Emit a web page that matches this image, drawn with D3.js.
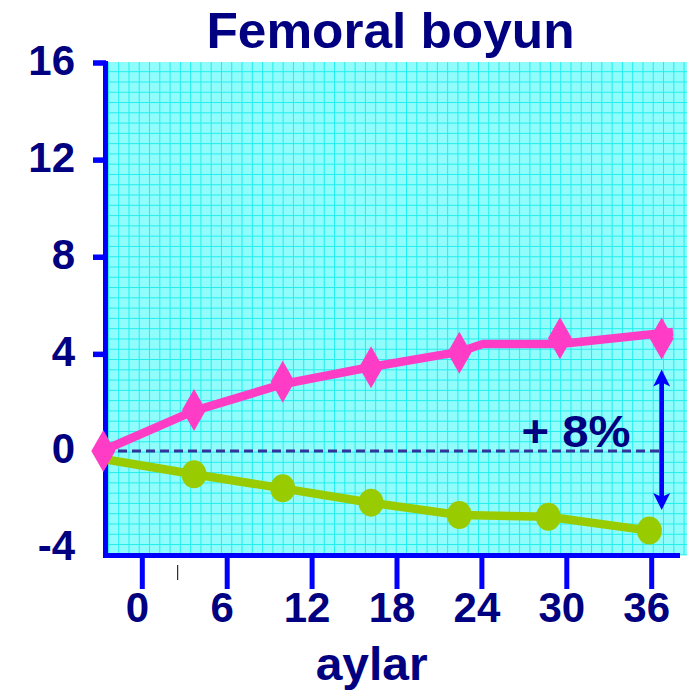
<!DOCTYPE html>
<html>
<head>
<meta charset="utf-8">
<script src="https://cdn.jsdelivr.net/npm/d3@7"></script>
<style>
  html, body { margin: 0; padding: 0; background: #ffffff; }
  svg { display: block; }
  text { font-family: "Liberation Sans", Arial, Helvetica, sans-serif; font-weight: bold; }
</style>
</head>
<body>
<svg id="chart" width="693" height="691"></svg>
<script>
// ---- data ----
const titleText = "Femoral boyun";
const xAxisTitle = "aylar";
const annotationText = "+ 8%";
const xTickValues = [0, 6, 12, 18, 24, 30, 36];
const yTickValues = [-4, 0, 4, 8, 12, 16];
const yTickLabels = ["-4", "0", "4", "8", "12", "16"];

// pink series (diamonds) – marker positions (months, % change)
const pinkMarkerMonths = [-2.72, 3.69, 9.96, 16.2, 22.44, 29.55, 36.74];
const pinkMarkerValues = [0.0, 1.69, 2.85, 3.45, 4.05, 4.64, 4.63];
// pink connecting line vertices
const pinkLineMonths = [-2.74, 3.69, 10.0, 16.2, 22.42, 24.1, 29.55, 37.54];
const pinkLineValues = [0.02, 1.65, 2.76, 3.46, 4.08, 4.41, 4.41, 4.90];

// green series (circles)
const greenMonths = [-2.74, 3.69, 9.96, 16.2, 22.44, 28.73, 35.87];
const greenValues = [-0.33, -0.96, -1.54, -2.13, -2.64, -2.71, -3.28];
const greenMarkerMonths = [3.69, 9.96, 16.2, 22.44, 28.73, 35.87];
const greenMarkerValues = [-0.96, -1.54, -2.13, -2.64, -2.71, -3.28];

// difference arrow (months, top value, bottom value)
const arrowMonth = 36.74;
const arrowTop = 3.36;
const arrowBottom = -2.43;
const baselineValue = 0;

// ---- styles ----
const NAVY = "#000080";
const BLUE = "#0000ff";
const PINK = "#ff3cc6";
const GREEN = "#99cc00";
const BG = "#90fcfc";
const GRID = "#22eeee";

const svg = d3.select("#chart");

// scales
const x = d3.scaleLinear().domain([0, 36]).range([141.8, 651.2]);
const y = d3.scaleLinear().domain([-4, 16]).range([548.1, 62.5]);

// plot area
const plot = { left: 108, right: 687, top: 62, bottom: 555 };

svg.append("rect")
  .attr("x", plot.left).attr("y", plot.top)
  .attr("width", plot.right - plot.left).attr("height", plot.bottom - plot.top)
  .attr("fill", BG);

// graph paper grid (decorative)
const gridStep = 10.28;
const gx = d3.range(plot.left + 0.4, plot.right, gridStep);
const gy = d3.range(plot.top - 0.6 + gridStep, plot.bottom, gridStep);
svg.append("g").selectAll("line").data(gx).join("line")
  .attr("x1", d => d).attr("x2", d => d)
  .attr("y1", plot.top).attr("y2", plot.bottom)
  .attr("stroke", GRID).attr("stroke-width", 1);
svg.append("g").selectAll("line").data(gy).join("line")
  .attr("y1", d => d).attr("y2", d => d)
  .attr("x1", plot.left).attr("x2", plot.right)
  .attr("stroke", GRID).attr("stroke-width", 1);

// title
svg.append("text")
  .attr("x", 390.5).attr("y", 47.5)
  .attr("text-anchor", "middle")
  .attr("font-size", 50)
  .attr("textLength", 368).attr("lengthAdjust", "spacingAndGlyphs")
  .attr("fill", NAVY)
  .text(titleText);

// dashed zero line
svg.append("line")
  .attr("x1", 118).attr("x2", x(arrowMonth))
  .attr("y1", y(baselineValue)).attr("y2", y(baselineValue))
  .attr("stroke", "#333399").attr("stroke-width", 3)
  .attr("stroke-dasharray", "9,5");

// Y axis
const yAxis = d3.axisLeft(y).tickValues(yTickValues).tickSize(13).tickSizeOuter(0)
  .tickFormat((d, i) => yTickLabels[i]);
const gY = svg.append("g").attr("transform", "translate(106,0)").call(yAxis);
gY.select(".domain").remove();
gY.selectAll(".tick line")
  .attr("stroke", BLUE).attr("stroke-width", 5.5)
  .attr("display", d => d === -4 ? "none" : null);
gY.selectAll(".tick text")
  .attr("x", -31).attr("dy", 11.5)
  .attr("fill", NAVY).attr("font-size", 42)
  .attr("font-family", "'Liberation Sans', Arial, sans-serif").attr("font-weight", "bold");

// X axis
const xAxis = d3.axisBottom(x).tickValues(xTickValues).tickSize(31).tickSizeOuter(0)
  .tickFormat(d => String(d));
const gX = svg.append("g").attr("transform", "translate(0,558)").call(xAxis);
gX.select(".domain").remove();
gX.selectAll(".tick line").attr("stroke", BLUE).attr("stroke-width", 5);
gX.selectAll(".tick text")
  .attr("y", 63.7).attr("dy", 0).attr("dx", -5)
  .attr("fill", NAVY).attr("font-size", 42)
  .attr("font-family", "'Liberation Sans', Arial, sans-serif").attr("font-weight", "bold");

// axis lines
svg.append("line")
  .attr("x1", 105.5).attr("x2", 105.5).attr("y1", 61).attr("y2", 558)
  .attr("stroke", BLUE).attr("stroke-width", 5);
svg.append("line")
  .attr("x1", 103).attr("x2", 680).attr("y1", 555.5).attr("y2", 555.5)
  .attr("stroke", BLUE).attr("stroke-width", 5);

// stray mark under axis
svg.append("line")
  .attr("x1", 177.7).attr("x2", 177.7).attr("y1", 565).attr("y2", 580)
  .attr("stroke", "#000000").attr("stroke-width", 1);

// x axis title
svg.append("text")
  .attr("x", 371.7).attr("y", 680)
  .attr("text-anchor", "middle")
  .attr("font-size", 47)
  .attr("textLength", 112).attr("lengthAdjust", "spacingAndGlyphs")
  .attr("fill", NAVY)
  .text(xAxisTitle);

// green series
const line = d3.line().x(d => x(d[0])).y(d => y(d[1]));
svg.append("path")
  .datum(d3.zip(greenMonths, greenValues))
  .attr("d", line)
  .attr("fill", "none").attr("stroke", GREEN).attr("stroke-width", 8.5)
  .attr("stroke-linejoin", "round");
svg.append("g").selectAll("ellipse")
  .data(d3.zip(greenMarkerMonths, greenMarkerValues))
  .join("ellipse")
  .attr("cx", d => x(d[0])).attr("cy", d => y(d[1]))
  .attr("rx", 12.5).attr("ry", 14)
  .attr("fill", GREEN);

// pink series
svg.append("path")
  .datum(d3.zip(pinkLineMonths, pinkLineValues))
  .attr("d", line)
  .attr("fill", "none").attr("stroke", PINK).attr("stroke-width", 8.5)
  .attr("stroke-linejoin", "round");
svg.append("g").selectAll("path")
  .data(d3.zip(pinkMarkerMonths, pinkMarkerValues))
  .join("path")
  .attr("d", d => {
    const cx = x(d[0]), cy = y(d[1]);
    return `M${cx},${cy - 21}L${cx + 12},${cy}L${cx},${cy + 21}L${cx - 12},${cy}Z`;
  })
  .attr("fill", PINK);

// double-headed arrow
const ax = x(arrowMonth);
const yt = y(arrowTop), yb = y(arrowBottom);
svg.append("line")
  .attr("x1", ax).attr("x2", ax).attr("y1", yt + 12).attr("y2", yb - 12)
  .attr("stroke", BLUE).attr("stroke-width", 4.7);
svg.append("path")
  .attr("d", `M${ax},${yt}L${ax + 8.5},${yt + 17}L${ax},${yt + 13}L${ax - 8.5},${yt + 17}Z`)
  .attr("fill", BLUE);
svg.append("path")
  .attr("d", `M${ax},${yb}L${ax + 8.5},${yb - 17}L${ax},${yb - 13}L${ax - 8.5},${yb - 17}Z`)
  .attr("fill", BLUE);

// annotation
svg.append("text")
  .attr("x", 521.5).attr("y", 446.7)
  .attr("font-size", 44)
  .attr("textLength", 109).attr("lengthAdjust", "spacingAndGlyphs")
  .attr("fill", NAVY)
  .text(annotationText);
</script>
</body>
</html>
